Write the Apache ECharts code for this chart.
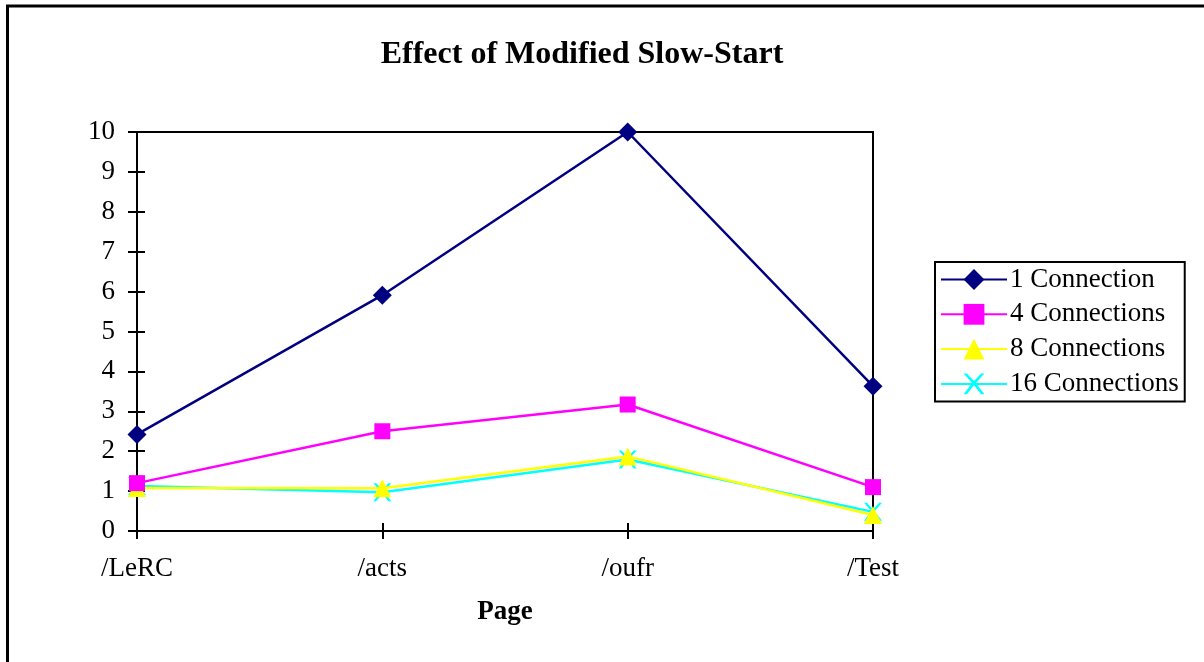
<!DOCTYPE html>
<html><head><meta charset="utf-8">
<script src="https://cdn.jsdelivr.net/npm/echarts@6/dist/echarts.min.js"></script>
<style>html,body{margin:0;padding:0;background:#fff}#c{width:1204px;height:662px}</style>
</head><body><div id="c"></div>
<script>
const categories = ['/LeRC', '/acts', '/oufr', '/Test'];
const seriesNames = ['1 Connection', '4 Connections', '8 Connections', '16 Connections'];
const conn1 = [2.42, 5.91, 10.0, 3.63];
const conn4 = [1.2, 2.5, 3.17, 1.1];
const conn8 = [1.08, 1.07, 1.87, 0.4];
const conn16 = [1.13, 0.97, 1.79, 0.48];

const F = 'Liberation Serif, Times New Roman, serif';
const xShape = 'path://M0,0L1.6,0L5,3.6L8.4,0L10,0L5.9,4.6L10,10L8.4,10L5,5.6L1.6,10L0,10L4.1,4.6Z';
const colors = ['#000080', '#FF00FF', '#FFFF00', '#00FFFF'];
const symbols = ['diamond', 'rect', 'triangle', xShape];
const sizes = [19, 16, 18, 18];
const datas = [conn1, conn4, conn8, conn16];

const chart = echarts.init(document.getElementById('c'), null, {renderer: 'canvas'});
const common = {type: 'category', data: categories, boundaryGap: false, gridIndex: 0};
chart.setOption({
  animation: false,
  backgroundColor: '#fff',
  title: {text: 'Effect of Modified Slow-Start', left: 577, textAlign: 'center', top: 34,
    textStyle: {fontFamily: F, fontSize: 32, fontWeight: 'bold', color: '#000'}},
  grid: {left: 137, top: 132, width: 736, height: 399, show: true, borderColor: '#000', borderWidth: 2, backgroundColor: 'transparent'},
  legend: {orient: 'vertical', left: 935, top: 262, padding: [4, 6, 4, 5],
    borderColor: '#000', borderWidth: 2, itemWidth: 66, itemHeight: 26, itemGap: 7.8,
    textStyle: {fontFamily: F, fontSize: 27, color: '#000', padding: [0, 0, 0, -2]},
    data: seriesNames},
  xAxis: [
    Object.assign({}, common, {
      name: 'Page', nameLocation: 'middle', nameGap: 68,
      nameTextStyle: {fontFamily: F, fontSize: 27, fontWeight: 'bold', color: '#000'},
      axisLine: {lineStyle: {color: '#000', width: 2}},
      axisTick: {show: true, length: 8, lineStyle: {color: '#000', width: 2}},
      axisLabel: {fontFamily: F, fontSize: 27, color: '#000', margin: 24},
      splitLine: {show: false}}),
    Object.assign({}, common, {position: 'bottom',
      axisLine: {show: false}, axisLabel: {show: false},
      axisTick: {show: true, inside: true, length: 8, lineStyle: {color: '#000', width: 2}},
      splitLine: {show: false}})
  ],
  yAxis: [
    {type: 'value', min: 0, max: 10, interval: 1,
      axisLine: {show: true, lineStyle: {color: '#000', width: 2}},
      axisTick: {show: true, length: 9, lineStyle: {color: '#000', width: 2}},
      axisLabel: {fontFamily: F, fontSize: 27, color: '#000', margin: 22},
      splitLine: {show: false}},
    {type: 'value', min: 0, max: 10, interval: 1, position: 'left',
      axisLine: {show: false}, axisLabel: {show: false},
      axisTick: {show: true, inside: true, length: 8, lineStyle: {color: '#000', width: 2}},
      splitLine: {show: false}}
  ],
  graphic: [
    {type: 'line', shape: {x1: 6, y1: 6, x2: 1204, y2: 6}, style: {stroke: '#000', lineWidth: 3}},
    {type: 'line', shape: {x1: 7.5, y1: 5, x2: 7.5, y2: 662}, style: {stroke: '#000', lineWidth: 3}}
  ],
  series: seriesNames.map((n, i) => ({
    name: n, type: 'line', data: datas[i], symbol: symbols[i], symbolSize: sizes[i],
    showAllSymbol: true,
    lineStyle: {color: colors[i], width: 2.5}, itemStyle: {color: colors[i], borderWidth: 0},
    emphasis: {disabled: true}, z: 10 - i
  })).reverse()
});
</script></body></html>
